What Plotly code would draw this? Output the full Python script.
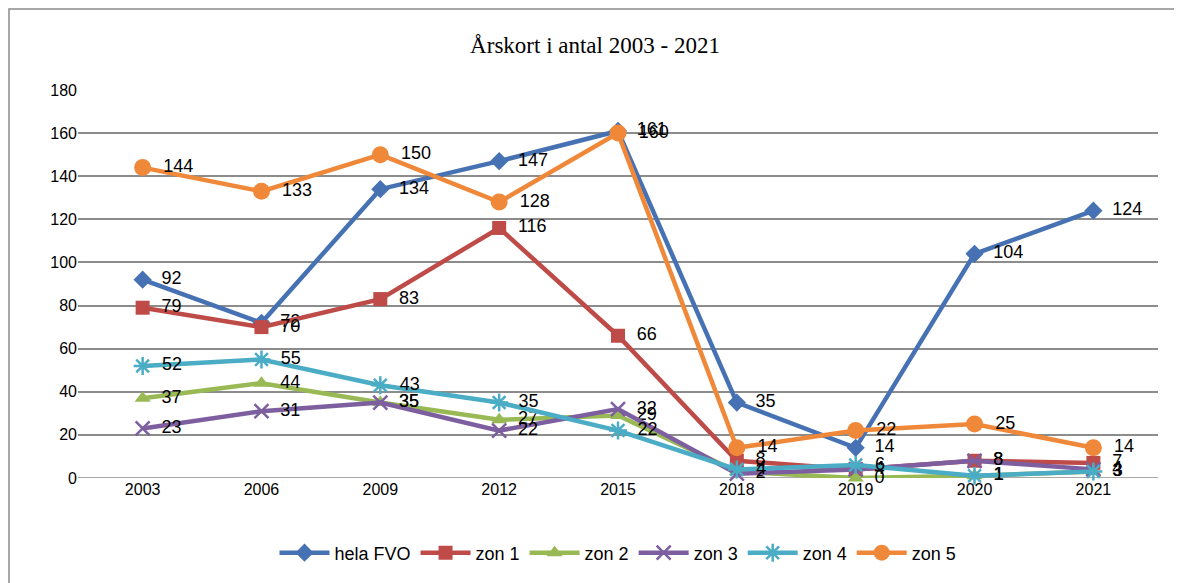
import plotly.graph_objects as go

years = ["2003", "2006", "2009", "2012", "2015", "2018", "2019", "2020", "2021"]
hela_fvo = [92, 72, 134, 147, 161, 35, 14, 104, 124]
zon1 = [79, 70, 83, 116, 66, 8, 4, 8, 7]
zon2 = [37, 44, 35, 27, 29, 3, 0, 1, 3]
zon3 = [23, 31, 35, 22, 32, 2, 4, 8, 4]
zon4 = [52, 55, 43, 35, 22, 4, 6, 1, 3]
zon5 = [144, 133, 150, 128, 160, 14, 22, 25, 14]

series = [
    ("hela FVO", hela_fvo, "#4672B4", "diamond", 14),
    ("zon 1", zon1, "#BE4B48", "square", 14),
    ("zon 2", zon2, "#98B954", "triangle-up", 14),
    ("zon 3", zon3, "#7D5FA0", "x-thin-open", 14),
    ("zon 4", zon4, "#4AACC5", "asterisk-open", 15),
    ("zon 5", zon5, "#F0883A", "circle", 17),
]

W, H = 1174, 575
L, R, T, B = 70, 24, 82, 105
PW, PH = W - L - R, H - T - B

fig = go.Figure()
for name, vals, color, sym, size in series:
    open_sym = sym.endswith("open")
    fig.add_trace(go.Scatter(
        x=years, y=vals, name=name, mode="lines+markers+text",
        text=["\u2002" + str(v) for v in vals], textposition="middle right",
        textfont=dict(family="Liberation Sans", size=18, color="#000000"),
        line=dict(color=color, width=4.5),
        marker=dict(symbol=sym, size=size, color=color,
                    line=dict(color=color, width=2.5 if open_sym else 0)),
        cliponaxis=False,
    ))

fig.update_layout(
    width=W, height=H,
    margin=dict(l=L, r=R, t=T, b=B, autoexpand=False),
    paper_bgcolor="white", plot_bgcolor="white",
    title=dict(text="Årskort i antal 2003 - 2021", x=0.5, xanchor="center",
               y=1 - 37 / H, yanchor="middle",
               font=dict(family="Liberation Serif", size=23, color="#000000")),
    xaxis=dict(type="category", showgrid=False, showline=False, ticks="",
               tickfont=dict(family="Liberation Sans", size=16, color="#000000")),
    yaxis=dict(range=[0, 180], dtick=20, showgrid=True, gridcolor="#8C8C8C",
               gridwidth=1.5, zeroline=False, showline=False, ticks="",
               ticklen=0, tickfont=dict(family="Liberation Sans", size=16, color="#000000")),
    legend=dict(orientation="h", x=0.5, xanchor="center", y=-75 / PH, yanchor="middle",
                font=dict(family="Liberation Sans", size=18, color="#000000"),
                itemwidth=50, tracegroupgap=0),
    showlegend=True,
)
fig.add_shape(type="line", xref="paper", yref="y", x0=0, x1=1, y0=0, y1=0,
              line=dict(color="#8C8C8C", width=1.5), layer="below")
fig.add_shape(type="rect", xref="paper", yref="paper",
              x0=(1 - L) / PW, x1=(1170 - L) / PW,
              y0=-(B + 20) / PH,
              y1=(PH + T - 1) / PH,
              line=dict(color="#8C8C8C", width=1.5))

fig.write_html("out.html")
